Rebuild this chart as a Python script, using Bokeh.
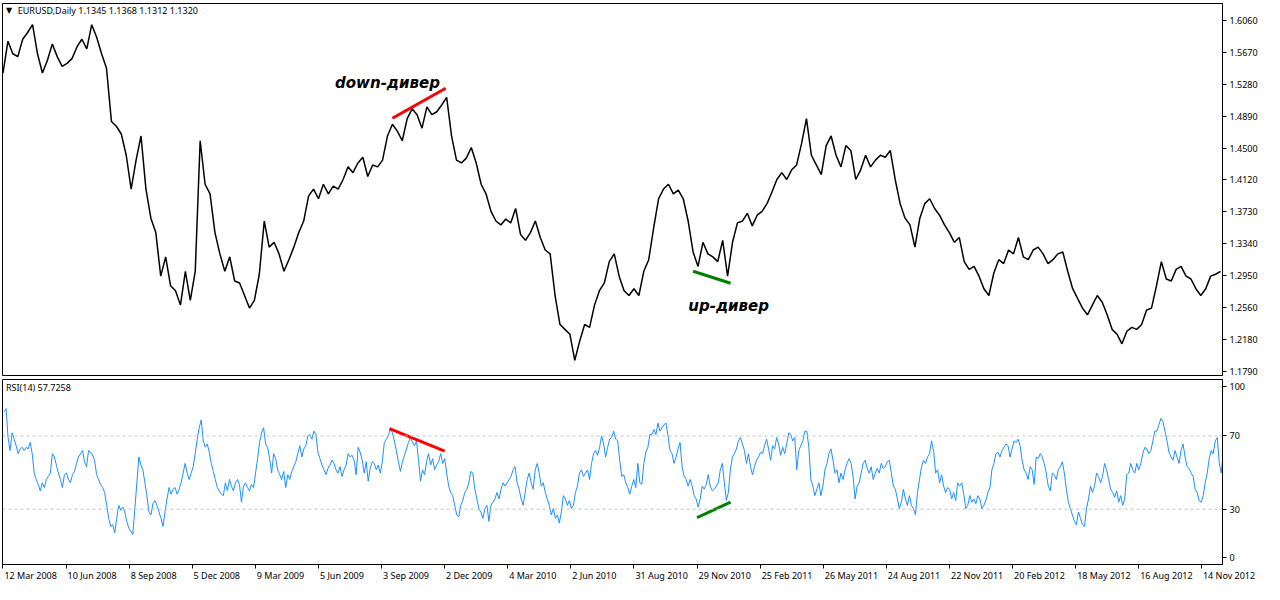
import numpy as np
from bokeh.plotting import figure
from bokeh.layouts import column
from bokeh.models import Range1d, FixedTicker, Label, Span, NumeralTickFormatter, LinearAxis
from bokeh.embed import file_html
from bokeh.resources import INLINE

FONT = "Noto Sans"
FS = 9  # px

# EURUSD daily close, read every 5 bars
price_close = [
    1.5421, 1.5809, 1.5656, 1.5621, 1.5833, 1.5915, 1.6010, 1.5656, 1.5421, 1.5574,
    1.5774, 1.5621, 1.5503, 1.5539, 1.5597, 1.5739, 1.5833, 1.5715, 1.6010, 1.5857,
    1.5656, 1.5480, 1.4832, 1.4773, 1.4679, 1.4420, 1.4008, 1.4361, 1.4655, 1.4008,
    1.3654, 1.3478, 1.2948, 1.3183, 1.2830, 1.2771, 1.2595, 1.3007, 1.2653, 1.3007,
    1.4597, 1.4067, 1.3949, 1.3478, 1.3219, 1.3007, 1.3183, 1.2889, 1.2865, 1.2712,
    1.2559, 1.2653, 1.2971, 1.3619, 1.3301, 1.3360, 1.3219, 1.3007, 1.3148, 1.3301,
    1.3478, 1.3619, 1.3925, 1.4008, 1.3890, 1.4067, 1.3949, 1.4043, 1.4008, 1.4125,
    1.4279, 1.4208, 1.4326, 1.4396, 1.4161, 1.4302, 1.4279, 1.4361, 1.4655, 1.4797,
    1.4714, 1.4597, 1.4867, 1.4985, 1.4914, 1.4750, 1.5009, 1.4914, 1.4950, 1.5032,
    1.5126, 1.4655, 1.4361, 1.4326, 1.4385, 1.4514, 1.4326, 1.4067, 1.3949, 1.3737,
    1.3619, 1.3572, 1.3643, 1.3596, 1.3772, 1.3454, 1.3384, 1.3478, 1.3619, 1.3419,
    1.3266, 1.3219, 1.2712, 1.2359, 1.2300, 1.2241, 1.1923, 1.2159, 1.2359, 1.2324,
    1.2595, 1.2771, 1.2865, 1.3125, 1.3219, 1.2948, 1.2771, 1.2712, 1.2795, 1.2712,
    1.3007, 1.3148, 1.3537, 1.3890, 1.4008, 1.4067, 1.3949, 1.3996, 1.3890, 1.3619,
    1.3242, 1.3066, 1.3360, 1.3219, 1.3183, 1.3125, 1.3384, 1.2948, 1.3360, 1.3596,
    1.3619, 1.3713, 1.3560, 1.3690, 1.3737, 1.3831, 1.3972, 1.4125, 1.4208, 1.4125,
    1.4243, 1.4302, 1.4561, 1.4867, 1.4420, 1.4302, 1.4184, 1.4538, 1.4655, 1.4420,
    1.4279, 1.4538, 1.4479, 1.4125, 1.4243, 1.4420, 1.4279, 1.4361, 1.4420, 1.4396,
    1.4479, 1.4125, 1.3831, 1.3654, 1.3572, 1.3301, 1.3654, 1.3831, 1.3890, 1.3772,
    1.3690, 1.3572, 1.3478, 1.3360, 1.3419, 1.3125, 1.3030, 1.3066, 1.2948, 1.2795,
    1.2712, 1.2983, 1.3148, 1.3101, 1.3266, 1.3219, 1.3419, 1.3183, 1.3148, 1.3266,
    1.3301, 1.3219, 1.3101, 1.3148, 1.3219, 1.3242, 1.3007, 1.2795, 1.2677, 1.2559,
    1.2477, 1.2595, 1.2712, 1.2630, 1.2477, 1.2300, 1.2241, 1.2124, 1.2277, 1.2324,
    1.2300, 1.2359, 1.2536, 1.2559, 1.2830, 1.3125, 1.2913, 1.2889, 1.3030, 1.3066,
    1.2948, 1.2913, 1.2795, 1.2712, 1.2795, 1.2948, 1.2971, 1.3007,
]

# RSI(14), read about every 2 bars
rsi_values = [
    83.2, 84.9, 69.1, 62.0, 71.7, 68.2, 64.7, 60.3, 62.9, 63.8,
    62.0, 63.8, 62.9, 66.4, 60.3, 49.7, 46.2, 43.5, 40.0, 44.4,
    41.8, 46.2, 47.9, 49.7, 60.3, 58.5, 54.1, 49.7, 46.2, 41.8,
    48.8, 49.7, 46.2, 44.4, 48.8, 50.6, 55.0, 58.5, 60.3, 62.0,
    55.9, 53.2, 62.0, 61.1, 59.4, 56.7, 48.8, 46.2, 43.5, 41.8,
    39.1, 32.1, 25.0, 20.6, 21.5, 17.1, 25.0, 32.1, 29.4, 31.2,
    28.5, 23.3, 19.7, 18.0, 16.2, 30.3, 44.4, 58.5, 54.1, 51.5,
    44.4, 37.4, 28.5, 26.8, 33.0, 34.7, 32.1, 28.5, 25.0, 20.6,
    28.5, 35.6, 41.8, 38.2, 40.9, 41.8, 38.2, 40.9, 44.4, 49.7,
    55.0, 49.7, 46.2, 49.7, 53.2, 60.3, 68.2, 74.4, 78.8, 67.3,
    63.8, 65.6, 61.1, 55.0, 50.6, 46.2, 41.8, 40.0, 38.2, 37.4,
    44.4, 40.0, 46.2, 42.6, 40.0, 44.4, 46.2, 43.5, 33.8, 42.6,
    44.4, 41.8, 40.0, 43.5, 41.8, 49.7, 57.6, 66.4, 71.7, 74.4,
    65.6, 63.8, 57.6, 49.7, 60.3, 57.6, 51.5, 48.8, 46.2, 50.6,
    41.8, 48.8, 46.2, 50.6, 53.2, 55.9, 60.3, 64.7, 58.5, 62.9,
    64.7, 70.0, 70.8, 68.2, 72.6, 70.8, 61.1, 57.6, 54.1, 51.5,
    48.8, 52.3, 54.1, 56.7, 55.0, 51.5, 49.7, 53.2, 47.9, 51.5,
    54.1, 60.3, 58.5, 59.4, 56.7, 48.8, 63.8, 61.1, 56.7, 49.7,
    55.9, 45.3, 52.3, 55.9, 55.0, 51.5, 54.1, 49.7, 55.9, 66.4,
    68.2, 70.0, 74.0, 71.7, 67.3, 62.0, 55.9, 50.6, 55.9, 59.4,
    62.9, 66.4, 69.1, 66.4, 64.7, 67.3, 56.7, 45.3, 51.5, 48.8,
    55.9, 60.3, 54.1, 57.6, 51.5, 54.1, 55.9, 60.3, 55.0, 57.6,
    49.7, 42.6, 39.1, 37.4, 32.1, 26.8, 25.9, 32.1, 34.7, 39.1,
    40.9, 44.4, 50.6, 49.7, 40.9, 35.6, 30.3, 28.5, 25.0, 30.3,
    32.1, 23.3, 32.1, 33.8, 35.6, 39.1, 35.6, 40.9, 44.4, 42.6,
    44.4, 46.2, 47.9, 51.5, 53.2, 44.4, 40.9, 35.6, 32.1, 39.1,
    46.2, 49.7, 44.4, 40.9, 51.5, 55.0, 49.7, 42.6, 44.4, 39.1,
    35.6, 32.1, 26.8, 30.3, 25.0, 26.8, 22.4, 28.5, 37.4, 35.6,
    32.1, 34.7, 30.3, 32.1, 39.1, 42.6, 49.7, 51.5, 47.9, 49.7,
    51.5, 46.2, 55.0, 60.3, 62.0, 59.4, 63.8, 70.0, 65.6, 58.5,
    63.8, 68.2, 69.1, 72.6, 68.2, 67.3, 56.7, 47.9, 48.8, 44.4,
    41.8, 38.2,
    42.6, 46.2, 41.8, 55.0, 44.4, 43.5, 55.0, 61.1, 63.8, 70.8,
    70.8, 73.5, 70.8, 77.0, 72.6, 74.4, 76.1, 77.0, 70.0, 62.0,
    60.3, 55.0, 58.5, 62.9, 66.4, 53.2, 47.9, 46.2, 42.6, 46.2,
    42.6, 37.4, 35.6, 31.2, 35.6, 42.6, 40.9, 43.5, 48.8, 42.6,
    40.0, 40.9, 42.6, 44.4, 51.5, 55.0, 44.4, 34.7, 39.1, 51.5,
    58.5, 60.3, 62.9, 67.3, 69.1, 65.6, 62.0, 55.0, 60.3, 53.2,
    48.8, 53.2, 56.7, 58.5, 61.1, 60.3, 64.7, 68.2, 62.9, 56.7,
    64.7, 62.9, 69.1, 65.6, 59.4, 63.8, 60.3, 65.6, 71.7, 70.8,
    67.3, 69.1, 51.5, 62.0, 64.7, 67.3, 72.6, 72.6, 63.8, 46.2,
    42.6, 37.4, 40.9, 44.4, 37.4, 42.6, 51.5, 55.0, 60.3, 62.9,
    56.7, 49.7, 51.5, 44.4, 49.7, 46.2, 51.5, 55.0, 57.6, 55.0,
    47.9, 35.6, 42.6, 44.4, 49.7, 55.0, 56.7, 52.3, 49.7, 53.2,
    46.2, 49.7, 52.3, 49.7, 55.0, 52.3, 53.2, 55.9, 56.7, 49.7,
    42.6, 40.9, 35.6, 30.3, 33.8, 40.9, 35.6, 32.1, 37.4, 32.1,
    30.3, 26.8, 39.1, 46.2, 53.2, 56.7, 55.0, 58.5, 60.3, 67.3,
    62.0, 49.7, 51.5, 44.4, 48.8, 42.6, 39.1, 41.8, 40.9, 35.6,
    39.1, 34.7, 44.4, 42.6, 44.4, 38.2, 30.3, 32.1, 37.4, 33.8,
    35.6, 33.0, 37.4, 35.6, 30.3, 32.1, 34.7, 39.1, 41.8, 51.5,
    55.0, 60.3, 61.1, 58.5, 62.0, 63.8, 65.6, 64.7, 58.5, 62.9,
    67.3, 66.4, 68.2, 64.7, 56.7, 51.5, 49.7, 46.2, 53.2, 51.5,
    43.5, 58.5, 57.6, 60.3, 58.5, 55.0, 49.7, 42.6, 40.0, 49.7,
    48.8, 46.2, 51.5, 53.2, 55.9, 49.7, 40.9, 33.8, 30.3, 26.8,
    23.3, 21.5, 28.5, 25.0, 21.5, 20.6, 30.3, 35.6, 42.6, 39.1,
    42.6, 49.7, 47.9, 44.4, 47.9, 55.0, 51.5, 46.2, 40.9, 39.1,
    36.5, 40.0, 33.8, 37.4, 32.1, 35.6, 48.8, 49.7, 55.0, 51.5,
    49.7, 55.0, 51.5, 55.0, 60.3, 63.8, 62.9, 60.3, 62.0, 67.3,
    72.6, 72.6, 76.1, 79.6, 77.9, 72.6, 67.3, 61.1, 58.5, 56.7,
    62.0, 58.5, 55.0, 62.0, 65.6, 58.5, 53.2, 52.3, 49.7, 47.9,
    40.9, 39.1, 34.7, 33.8, 37.4, 44.4, 49.7, 57.6, 62.0, 60.3,
    67.3, 69.1, 55.0, 49.7, 61.1,
]

price_step = 5
rsi_start = 1.08
rsi_step = 2.0408

price_ticks = [1.1790, 1.2180, 1.2560, 1.2950, 1.3340, 1.3730,
               1.4120, 1.4500, 1.4890, 1.5280, 1.5670, 1.6060]
rsi_tick_pos = [3.6, 30, 70, 97.0]
rsi_tick_text = ["0", "30", "70", "100"]
rsi_levels = [30, 70]

date_bars = [0, 64, 128, 192, 256, 320, 384, 448, 512, 576,
             640, 704, 768, 832, 896, 960, 1024, 1088, 1152, 1216]
date_labels = ["12 Mar 2008", "10 Jun 2008", "8 Sep 2008", "5 Dec 2008", "9 Mar 2009",
               "5 Jun 2009", "3 Sep 2009", "2 Dec 2009", "4 Mar 2010", "2 Jun 2010",
               "31 Aug 2010", "29 Nov 2010", "25 Feb 2011", "26 May 2011", "24 Aug 2011",
               "22 Nov 2011", "20 Feb 2012", "18 May 2012", "16 Aug 2012", "14 Nov 2012"]

down_div_price_x = [395, 449]
down_div_price_y = [1.4871, 1.5236]
up_div_price_x = [700, 738]
up_div_price_y = [1.3007, 1.2862]
down_div_rsi_x = [392, 448]
down_div_rsi_y = [74.0, 61.7]
up_div_rsi_x = [704, 738]
up_div_rsi_y = [25.4, 33.8]

price_x = np.arange(len(price_close)) * price_step
rsi_x = rsi_start + np.arange(len(rsi_values)) * rsi_step

W = 1264
X0, X1 = -0.5, 1237.0
xr = Range1d(X0, X1)

# approximate Noto Sans advance widths (em) to left-align date labels at their ticks
_em = {"0": .572, "1": .572, "2": .572, "3": .572, "4": .572, "5": .572, "6": .572,
       "7": .572, "8": .572, "9": .572, " ": .26, "M": .907, "a": .561, "r": .395,
       "J": .27, "u": .613, "n": .613, "S": .549, "e": .564, "p": .613, "D": .694,
       "c": .480, "A": .639, "g": .613, "N": .742, "o": .603, "v": .525, "F": .525,
       "b": .613, "y": .525}
NBSP = "\u00a0"
FRAME_W = W - 2 - 42
bars_per_px = (X1 - X0) / FRAME_W
gap_bars = 1.5 * bars_per_px

label_ticks, label_texts = [], []
for b, s in zip(date_bars, date_labels):
    w_px = sum(_em.get(ch, .57) for ch in s) * FS
    centre = b + gap_bars + (w_px / 2) * bars_per_px
    if centre < X1 - 0.5:
        label_ticks.append(centre)
        label_texts.append(s)
    else:
        # keep the tick inside the range; pad the text on the left so it still
        # starts just right of its date tick
        c = X1 - 0.5
        pad_px = 2 * ((b + gap_bars - c) / bars_per_px) + w_px
        n = max(0, int(round(pad_px / (0.26 * FS))))
        label_ticks.append(c)
        label_texts.append(NBSP * n + s)


def style_axis(ax):
    ax.axis_line_color = "black"
    ax.major_tick_line_color = "black"
    ax.major_tick_in = 0
    ax.major_tick_out = 4
    ax.minor_tick_line_color = None
    ax.major_label_text_font = FONT
    ax.major_label_text_font_size = f"{FS}px"
    ax.major_label_text_color = "black"
    ax.major_label_standoff = 3


p1 = figure(width=W, height=378, x_range=xr, y_range=Range1d(1.1738, 1.6268),
            y_axis_location="right", x_axis_location=None,
            output_backend="svg", toolbar_location=None,
            min_border_left=2, min_border_right=42, min_border_top=3, min_border_bottom=3,
            background_fill_color="white", border_fill_color="white",
            outline_line_color="black", outline_line_width=1)
p1.grid.visible = False
p1.yaxis.ticker = FixedTicker(ticks=price_ticks)
p1.yaxis.formatter = NumeralTickFormatter(format="0.0000")
style_axis(p1.yaxis[0])

p1.line(price_x, price_close, line_color="black", line_width=1.5)
p1.line(down_div_price_x, down_div_price_y, line_color="#FF0000", line_width=3)
p1.line(up_div_price_x, up_div_price_y, line_color="#008000", line_width=3)

p1.add_layout(Label(x=3, y=1.6232, text="▼", text_font="DejaVu Sans", text_font_size="8px",
                    text_color="black", text_baseline="top", text_align="left"))
p1.add_layout(Label(x=15, y=1.6262, text="EURUSD,Daily  1.1345 1.1368 1.1312 1.1320",
                    text_font=FONT, text_font_size=f"{FS}px", text_color="black",
                    text_baseline="top", text_align="left"))
p1.add_layout(Label(x=390, y=1.5303, text="down-дивер", text_font="DejaVu Sans",
                    text_font_size="15px", text_font_style="bold italic",
                    text_color="black", text_baseline="middle", text_align="center"))
p1.add_layout(Label(x=736, y=1.2583, text="up-дивер", text_font="DejaVu Sans",
                    text_font_size="15px", text_font_style="bold italic",
                    text_color="black", text_baseline="middle", text_align="center"))

p2 = figure(width=W, height=206, x_range=xr, y_range=Range1d(-0.2, 100.8),
            y_axis_location="right", x_axis_location=None,
            output_backend="svg", toolbar_location=None,
            min_border_left=2, min_border_right=42, min_border_top=1, min_border_bottom=20,
            background_fill_color="white", border_fill_color="white",
            outline_line_color="black", outline_line_width=1)
p2.grid.visible = False
p2.yaxis.ticker = FixedTicker(ticks=rsi_tick_pos)
p2.yaxis.major_label_overrides = {t: s for t, s in zip(rsi_tick_pos, rsi_tick_text)}
style_axis(p2.yaxis[0])

# tick marks of the date axis
tick_axis = LinearAxis(ticker=FixedTicker(ticks=date_bars))
style_axis(tick_axis)
tick_axis.major_label_overrides = {b: "" for b in date_bars}
tick_axis.major_label_text_font_size = "0px"
tick_axis.major_label_standoff = 0
p2.add_layout(tick_axis, "below")

# date labels, starting just right of each tick
label_axis = LinearAxis(ticker=FixedTicker(ticks=label_ticks))
style_axis(label_axis)
label_axis.axis_line_color = None
label_axis.major_tick_line_color = None
label_axis.major_tick_out = 0
label_axis.major_label_standoff = 0
label_axis.major_label_overrides = {c: s for c, s in zip(label_ticks, label_texts)}
p2.add_layout(label_axis, "below")

for lv in rsi_levels:
    p2.add_layout(Span(location=lv, dimension="width", line_color="#C0C0C0",
                       line_dash="3 3", line_width=1))

p2.line(rsi_x, rsi_values, line_color="#1E90FF", line_width=1)
p2.line(down_div_rsi_x, down_div_rsi_y, line_color="#FF0000", line_width=3)
p2.line(up_div_rsi_x, up_div_rsi_y, line_color="#008000", line_width=3)

p2.add_layout(Label(x=3, y=99.8, text="RSI(14) 57.7258", text_font=FONT,
                    text_font_size=f"{FS}px", text_color="black",
                    text_baseline="top", text_align="left"))

layout = column(p1, p2, spacing=0)
open("out.html", "w").write(file_html(layout, INLINE))
